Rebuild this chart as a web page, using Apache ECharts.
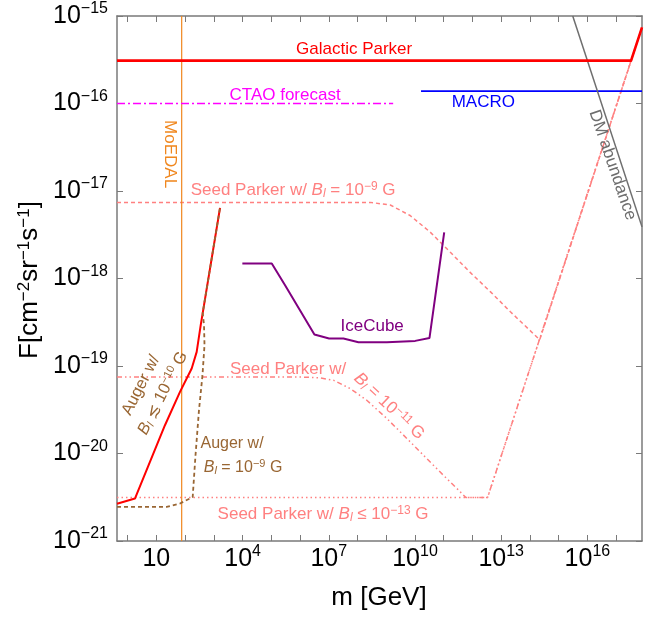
<!DOCTYPE html>
<html><head><meta charset="utf-8">
<script src="https://cdn.jsdelivr.net/npm/echarts@6/dist/echarts.min.js"></script>
<style>html,body{margin:0;padding:0;background:#fff}#c{width:664px;height:617px}</style>
</head><body><div id="c"></div>
<script>
// All values are [log10(m / GeV), log10(F / cm^-2 sr^-1 s^-1)]
const xTickValues = [0,1,2,3,4,5,6,7,8,9,10,11,12,13,14,15,16,17];
const xLabelValues = [1,4,7,10,13,16];
const yLabelValues = [-21,-20,-19,-18,-17,-16,-15];

const galacticParker = [[-0.37,-15.51],[17.52,-15.51],[17.9,-15.13]];
const ctaoForecast = [[-0.37,-16.0],[9.24,-16.0]];
const macro = [[10.21,-15.858],[17.9,-15.858]];
const dmAbundance = [[15.49,-15.0],[17.9,-17.41]];
const moedal = [[1.881,-21],[1.881,-15]];
const seedParker9 = [[-0.37,-17.13],[8.44,-17.13],[9.14,-17.16],[9.83,-17.28],[10.53,-17.47],[11.23,-17.70],[11.92,-17.93],[12.62,-18.15],[13.32,-18.38],[14.34,-18.70],[17.9,-15.13]];
const seedParker11 = [[-0.37,-19.125],[6.00,-19.125],[6.70,-19.136],[7.16,-19.162],[7.74,-19.257],[8.32,-19.391],[9.02,-19.600],[9.72,-19.829],[10.41,-20.058],[10.99,-20.249],[11.52,-20.420],[11.77,-20.504],[12.525,-20.504],[17.9,-15.13]];
const seedParker13 = [[-0.37,-20.504],[12.525,-20.504],[17.9,-15.13]];
const iceCube = [[3.992,-17.828],[5.016,-17.828],[5.479,-18.076],[6.500,-18.640],[7.011,-18.686],[7.510,-18.686],[8.032,-18.728],[9.021,-18.728],[10.007,-18.713],[10.505,-18.679],[11.017,-17.474]];
const augerB10 = [[-0.37,-20.575],[0.254,-20.515],[1.299,-19.677],[1.822,-19.296],[2.229,-19.028],[2.403,-18.839],[2.543,-18.533],[3.215,-17.192]];
const augerB9 = [[-0.37,-20.611],[1.358,-20.611],[1.822,-20.572],[2.264,-20.497],[2.362,-20.020],[2.483,-19.505],[2.605,-19.105],[2.675,-18.762],[2.658,-18.533],[2.612,-18.396],[3.215,-17.192]];

const fam = '"Liberation Sans", Arial, Helvetica, sans-serif';
const chart = echarts.init(document.getElementById('c'), null, {renderer:'canvas'});

function line(data, color, width, type, z) {
  return {type:'line', data, showSymbol:false, symbol:'none', silent:true, animation:false,
    lineStyle:{color, width, type, cap:'butt', join:'round'}, z: z||2, clip:true};
}
const frameColor = '#7a7a7a';
const axisCommon = {
  axisLine:{show:true, onZero:false, lineStyle:{color:frameColor, width:1.5}},
  splitLine:{show:false}
};
const tickRich = {
  b:{fontSize:25, lineHeight:30, fontFamily:fam, color:'#000'},
  s:{fontSize:16, lineHeight:16, fontFamily:fam, color:'#000', verticalAlign:'top'}
};

const option = {
  animation:false,
  backgroundColor:'#fff',
  grid:{left:117, top:16, width:525, height:525, containLabel:false},
  xAxis:[
    Object.assign({type:'value', min:-0.37, max:17.9, position:'bottom',
      axisTick:{show:true, inside:true, length:6, customValues:xTickValues, lineStyle:{color:frameColor, width:1}},
      axisLabel:{show:true, margin:3, customValues:xLabelValues, hideOverlap:false, rich:tickRich,
        formatter:v => v===1 ? '{b|10}' : '{b|10}{s|'+v+'}'}}, axisCommon),
    Object.assign({type:'value', min:-0.37, max:17.9, position:'top',
      axisTick:{show:true, inside:true, length:6, customValues:xTickValues, lineStyle:{color:frameColor, width:1}},
      axisLabel:{show:false}}, axisCommon)
  ],
  yAxis:[
    Object.assign({type:'value', min:-21, max:-15, interval:1, position:'left',
      axisTick:{show:true, inside:true, length:6, lineStyle:{color:frameColor, width:1}},
      axisLabel:{show:true, margin:9, rich:tickRich,
        formatter:v => '{b|10}{s|\u2212'+(-v)+'}'}}, axisCommon),
    Object.assign({type:'value', min:-21, max:-15, interval:1, position:'right',
      axisTick:{show:true, inside:true, length:6, lineStyle:{color:frameColor, width:1}},
      axisLabel:{show:false}}, axisCommon)
  ],
  series:[
    line(seedParker13, '#ff8080', 1.5, [1.5,3]),
    line(seedParker11, '#ff8080', 1.5, [5,3,1.5,3,1.5,3]),
    line(seedParker9, '#ff8080', 1.5, [4,3]),
    line(moedal, '#f0871e', 1.2, 'solid'),
    line(ctaoForecast, '#ff00ff', 1.5, [8,3,2,3]),
    line(macro, '#0000ff', 1.6, 'solid'),
    line(dmAbundance, '#6e6e6e', 1.5, 'solid'),
    line(galacticParker, '#ff0000', 2.6, 'solid'),
    line(iceCube, '#800080', 2, 'solid'),
    line(augerB10, '#ff0000', 2, 'solid'),
    line(augerB9, '#996633', 1.8, [4,3])
  ]
};
chart.setOption(option);

function richSet(size, color) {
  const s = Math.round(size*0.68);
  return {
    n:{fontSize:size, fontFamily:fam, fill:color, lineHeight:size+2},
    i:{fontSize:size, fontFamily:fam, fontStyle:'italic', fill:color, lineHeight:size+2},
    sub:{fontSize:s, fontFamily:fam, fontStyle:'italic', fill:color, lineHeight:s, verticalAlign:'bottom'},
    sup:{fontSize:s, fontFamily:fam, fill:color, lineHeight:s, verticalAlign:'top'}
  };
}
const deg = Math.PI/180;
const seedCol = '#ff8080', brown = '#996633';
const annotations = [
  {at:[7.882,-15.377], text:'{n|Galactic Parker}', color:'#ff0000', size:17, rot:0},
  {at:[5.479,-15.903], text:'{n|CTAO forecast}', color:'#ff00ff', size:17, rot:0},
  {at:[12.377,-15.983], text:'{n|MACRO}', color:'#0000ff', size:17, rot:0},
  {at:[16.872,-16.704], text:'{n|DM abundance}', color:'#6e6e6e', size:17, rot:-71},
  {at:[1.473,-16.578], text:'{n|MoEDAL}', color:'#f0871e', size:17, rot:-90},
  {at:[5.758,-16.990], text:'{n|Seed Parker w/ }{i|B}{sub|l}{n| = 10}{sup|\u22129}{n| G}', color:seedCol, size:17, rot:0},
  {at:[5.584,-19.037], text:'{n|Seed Parker w/}', color:seedCol, size:17, rot:0},
  {at:[9.102,-19.460], text:'{i|B}{sub|l}{n| = 10}{sup|\u221211}{n| G}', color:seedCol, size:17, rot:-43},
  {at:[6.802,-20.695], text:'{n|Seed Parker w/ }{i|B}{sub|l}{n| \u2264 10}{sup|\u221213}{n| G}', color:seedCol, size:17, rot:0},
  {at:[8.509,-18.545], text:'{n|IceCube}', color:'#800080', size:17, rot:0},
  {at:[0.463,-19.220], text:'{n|Auger w/}', color:brown, size:16.5, rot:63},
  {at:[1.229,-19.311], text:'{i|B}{sub|l}{n| \u2272 10}{sup|\u221210}{n| G}', color:brown, size:16.5, rot:63},
  {at:[3.633,-19.883], text:'{n|Auger w/}', color:brown, size:16, rot:0},
  {at:[4.016,-20.157], text:'{i|B}{sub|l}{n| = 10}{sup|\u22129}{n| G}', color:brown, size:16, rot:0}
];
const graphics = annotations.map(a => {
  const p = chart.convertToPixel({xAxisIndex:0, yAxisIndex:0}, a.at);
  return {type:'text', x:p[0], y:p[1], rotation:a.rot*deg, silent:true, z:50,
    style:{text:a.text, rich:richSet(a.size, a.color), align:'center', verticalAlign:'middle',
      fontSize:a.size, fontFamily:fam, fill:a.color}};
});
const titleRich = {
  n:{fontSize:26, fontFamily:fam, fill:'#000', lineHeight:29},
  sup:{fontSize:17, fontFamily:fam, fill:'#000', lineHeight:17, verticalAlign:'top'}
};
graphics.push({type:'text', x:379, y:598, silent:true,
  style:{text:'{n|m [GeV]}', rich:titleRich, align:'center', verticalAlign:'middle', fill:'#000'}});
graphics.push({type:'text', x:30, y:280, rotation:Math.PI/2, silent:true,
  style:{text:'{n|F[cm}{sup|\u22122}{n|sr}{sup|\u22121}{n|s}{sup|\u22121}{n|]}', rich:titleRich, align:'center', verticalAlign:'middle', fill:'#000'}});
chart.setOption({graphic:graphics});
</script>
</body></html>
